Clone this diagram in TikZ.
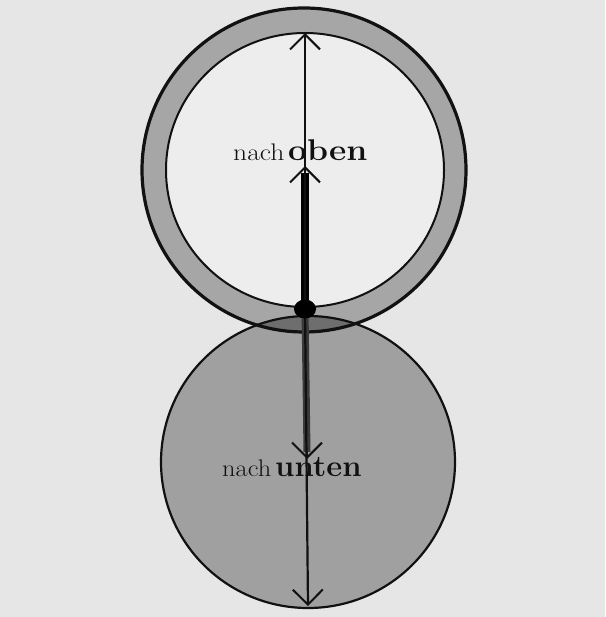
\documentclass[tikz,border=0pt]{standalone}
\usepackage{graphicx}
\usetikzlibrary{arrows.meta,shapes.geometric}
\definecolor{bgcol}{HTML}{E6E6E6}
\definecolor{innercol}{HTML}{EDEDED}
\definecolor{ringcol}{HTML}{A6A6A6}
\definecolor{lowcol}{HTML}{A0A0A0}
\definecolor{lenscol}{HTML}{6E6E6E}
\definecolor{shaftgray}{HTML}{3A3A3A}
\definecolor{inkcol}{HTML}{111111}
\tikzset{
  vtip/.style={-{Straight Barb[length=15pt,width=30pt,line width=2pt]}},
  thinline/.style={draw=inkcol,line width=2.2pt},
  outline/.style={draw=inkcol,line width=2.2pt},
  smalltext/.style={font=\fontsize{24}{24}\selectfont,inner sep=0pt,anchor=base west,text=inkcol},
  bigtext/.style={font=\fontsize{30}{30}\selectfont\bfseries,inner sep=0pt,anchor=base west,text=inkcol}
}
\begin{document}
\begin{tikzpicture}[x=1pt,y=-1pt]
\fill[bgcol] (0,0) rectangle (605,617);
\useasboundingbox (0,0) rectangle (605,617);
% lower disc
\fill[lowcol] (308,462) ellipse [x radius=147, y radius=146];
% ring
\fill[innercol] (305,170) ellipse [x radius=139, y radius=137];
\fill[ringcol, even odd rule] (304,170) ellipse [x radius=162, y radius=162]
  (305,170) ellipse [x radius=139, y radius=137];
% lens (overlap)
\begin{scope}
  \clip (308,462) ellipse [x radius=147, y radius=146];
  \fill[lenscol, even odd rule] (304,170) ellipse [x radius=162, y radius=162]
    (305,170) ellipse [x radius=139, y radius=137];
\end{scope}
% outlines
\draw[outline] (308,462) ellipse [x radius=147, y radius=146];
\draw[outline, line width=3.2pt] (304,170) ellipse [x radius=162, y radius=162];
\draw[outline, line width=2pt] (305,170) ellipse [x radius=139, y radius=137];
% points
\coordinate (dot) at (305,309);
\coordinate (top) at (305,33);
\coordinate (upthick) at (305,173);
\coordinate (upapex) at (305,166);
\coordinate (downthick) at (307,452);
\coordinate (downapex) at (307,459);
\coordinate (bottom) at (308,606);
% shafts
\draw[draw=black, line width=8pt] (dot) -- (upthick);
\draw[draw=shaftgray, line width=7pt] (dot) -- (downthick);
% thin lines with tips
\draw[thinline, vtip] (dot) -- (top);
\draw[thinline, vtip] (upthick) -- (upapex);
\draw[thinline, vtip] (dot) -- (bottom);
\draw[thinline, vtip] (downthick) -- (downapex);
% dot
\node[ellipse, fill=black, minimum width=22pt, minimum height=19pt, inner sep=0pt] (junction) at (dot) {};
% labels
\node[smalltext] (nach1) at (233,161) {\scalebox{1.15}[1]{nach}};
\node[bigtext] (oben) at (288,161) {\scalebox{1.12}[1]{oben}};
\node[smalltext] (nach2) at (222,476) {\scalebox{1.1}[1]{nach}};
\node[bigtext] (unten) at (275,476) {\scalebox{1.03}[1]{unten}};
\end{tikzpicture}
\end{document}
